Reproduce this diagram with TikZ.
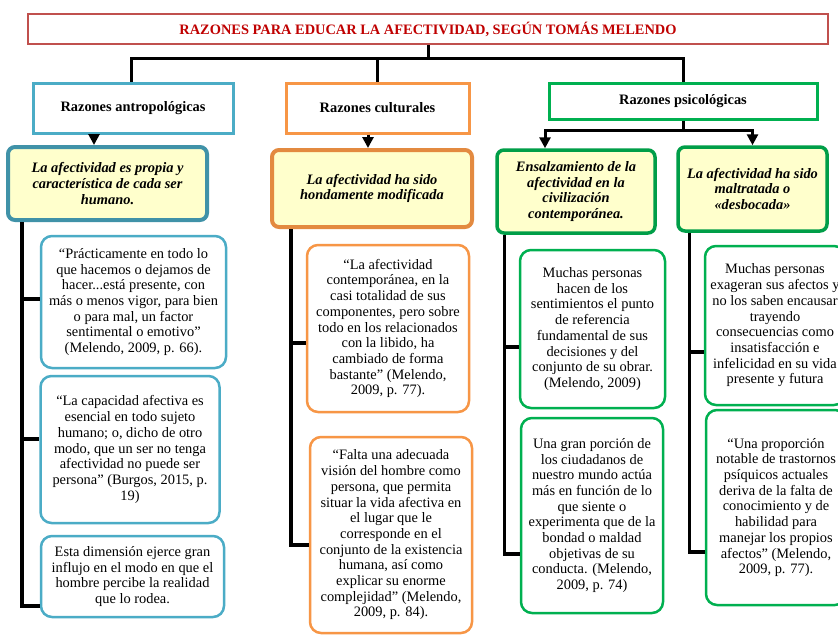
\documentclass[tikz,border=0pt]{standalone}
\usepackage{fontspec}
\setmainfont{Liberation Serif}
\usetikzlibrary{arrows.meta}
\definecolor{razred}{HTML}{C0504D}
\definecolor{titred}{HTML}{C00000}
\definecolor{antblue}{HTML}{4BACC6}
\definecolor{culorange}{HTML}{F79646}
\definecolor{psigreen}{HTML}{00B050}
\definecolor{ideafill}{HTML}{FFFFCC}

\begin{document}
\begin{tikzpicture}[x=1pt, y=-1pt,
    every node/.style = {font=\fontsize{14.4}{15.7}\selectfont, align=center, inner sep=0pt},
    title/.style = {draw=razred, line width=2pt, text=titred, font=\fontsize{14.4}{15.7}\selectfont\bfseries},
    cat/.style = {line width=3pt, fill=white, font=\fontsize{14.4}{15.7}\selectfont\bfseries},
    idea/.style = {line width=4pt, rounded corners=7pt, fill=ideafill, font=\fontsize{14.4}{15.7}\selectfont\bfseries\itshape},
    quote/.style = {line width=2.5pt, rounded corners=11pt, fill=white},
    conn/.style = {line width=3pt},
    trunk/.style = {line width=3.5pt},
    arrow/.style = {line width=3pt, -{Triangle[length=11pt,width=11pt]}}]

    \useasboundingbox (0,0) rectangle (838,635);
    \clip (0,0) rectangle (838,635);
    \fill[white] (0,0) rectangle (838,635);

    % title and reasons
    \node[title, minimum width=800pt, minimum height=30pt] (title) at (428,29) {RAZONES PARA EDUCAR LA AFECTIVIDAD, SEGÚN TOMÁS MELENDO};
    \node[cat, draw=antblue, minimum width=200pt, minimum height=50pt] (anthro) at (133,108) {Razones antropológicas};
    \node[cat, draw=culorange, minimum width=183pt, minimum height=50pt] (cult) at (377.5,108) {Razones culturales};
    \node[cat, draw=psigreen, minimum width=268pt, minimum height=36pt] (psic) at (683,101) {Razones psicológicas};

    % main ideas
    \node[idea, draw=antblue!85!black, minimum width=199pt, minimum height=73pt] (afA) at (107.5,183.5) {La afectividad es propia y\\ característica de cada ser\\ humano.};
    \node[idea, draw=culorange!92!black, minimum width=200pt, minimum height=77pt] (afB) at (372,188.5) {La afectividad ha sido\\ hondamente modificada};
    \node[idea, draw=psigreen!90!black, line width=3.5pt, minimum width=158pt, minimum height=83pt] (afC) at (576,191.5) {Ensalzamiento de la\\ afectividad en la\\ civilización\\ contemporánea.};
    \node[idea, draw=psigreen!90!black, line width=3.5pt, minimum width=149pt, minimum height=84pt] (afD) at (752.5,189) {La afectividad ha sido\\ maltratada o\\ «desbocada»};

    % quotes
    \node[quote, draw=antblue, minimum width=185pt, minimum height=132pt] (q1) at (133.5,302) {“Prácticamente en todo lo\\ que hacemos o dejamos de\\ hacer...está presente, con\\ más o menos vigor, para bien\\ o para mal, un factor\\ sentimental o emotivo”\\ (Melendo, 2009, p. 66).};
    \node[quote, draw=antblue, minimum width=179pt, minimum height=147pt] (q2) at (130,449.5) {“La capacidad afectiva es\\ esencial en todo sujeto\\ humano; o, dicho de otro\\ modo, que un ser no tenga\\ afectividad no puede ser\\ persona” (Burgos, 2015, p.\\ 19)};
    \node[quote, draw=antblue, minimum width=183pt, minimum height=81pt] (q3) at (132.5,576.5) {Esta dimensión ejerce gran\\ influjo en el modo en que el\\ hombre percibe la realidad\\ que lo rodea.};

    \node[quote, draw=culorange, minimum width=162pt, minimum height=167pt] (q4) at (388,328.5) {“La afectividad\\ contemporánea, en la\\ casi totalidad de sus\\ componentes, pero sobre\\ todo en los relacionados\\ con la libido, ha\\ cambiado de forma\\ bastante” (Melendo,\\ 2009, p. 77).};
    \node[quote, draw=culorange, minimum width=162pt, minimum height=196pt] (q5) at (391,535) {“Falta una adecuada\\ visión del hombre como\\ persona, que permita\\ situar la vida afectiva en\\ el lugar que le\\ corresponde en el\\ conjunto de la existencia\\ humana, así como\\ explicar su enorme\\ complejidad” (Melendo,\\ 2009, p. 84).};

    \node[quote, draw=psigreen, minimum width=145pt, minimum height=158pt] (q6) at (592.5,329) {Muchas personas\\ hacen de los\\ sentimientos el punto\\ de referencia\\ fundamental de sus\\ decisiones y del\\ conjunto de su obrar.\\ (Melendo, 2009)};
    \node[quote, draw=psigreen, minimum width=142pt, minimum height=195pt] (q7) at (592,515.5) {Una gran porción de\\ los ciudadanos de\\ nuestro mundo actúa\\ más en función de lo\\ que siente o\\ experimenta que de la\\ bondad o maldad\\ objetivas de su\\ conducta. (Melendo,\\ 2009, p. 74)};

    \node[quote, draw=psigreen, minimum width=140pt, minimum height=159pt] (q8) at (775,325.5) {Muchas personas\\ exageran sus afectos y\\ no los saben encausar\\ trayendo\\ consecuencias como\\ insatisfacción e\\ infelicidad en su vida\\ presente y futura};
    \node[quote, draw=psigreen, minimum width=140pt, minimum height=195pt] (q9) at (776,507.5) {“Una proporción\\ notable de trastornos\\ psíquicos actuales\\ deriva de la falta de\\ conocimiento y de\\ habilidad para\\ manejar los propios\\ afectos” (Melendo,\\ 2009, p. 77).};

    % title tree
    \draw[conn] (title.south) -- ++(0,13) coordinate (hub);
    \draw[conn] (hub) -| ([xshift=-2pt]anthro.north);
    \draw[conn] (hub) -| (cult.north);
    \draw[conn] (hub) -| (psic.north);

    % reasons to ideas
    \draw[arrow] ([xshift=-39pt]anthro.south) -- ([xshift=-13.5pt]afA.north);
    \draw[arrow] ([xshift=-9.5pt]cult.south) -- ([xshift=-4pt]afB.north);
    \draw[conn] (psic.south) -- ++(0,10) coordinate (pfork);
    \draw[arrow] (pfork) -| ([xshift=-31pt]afC.north);
    \draw[arrow] (pfork) -| (afD.north);

    % ideas to quotes
    \draw[trunk] ([xshift=16pt]afA.south west) |- ([yshift=3pt]q1.west);
    \draw[trunk] ([xshift=16pt]afA.south west) |- ([yshift=10.5pt]q2.west);
    \draw[trunk] ([xshift=16pt]afA.south west) |- ([yshift=-29.5pt]q3.west);

    \draw[trunk] ([xshift=21pt]afB.south west) |- ([yshift=-14.5pt]q4.west);
    \draw[trunk] ([xshift=21pt]afB.south west) |- ([yshift=-10pt]q5.west);

    \draw[trunk] ([xshift=9pt]afC.south west) |- ([yshift=-18pt]q6.west);
    \draw[trunk] ([xshift=9pt]afC.south west) |- ([yshift=-38.5pt]q7.west);

    \draw[trunk] ([xshift=13pt]afD.south west) |- ([yshift=-26.5pt]q8.west);
    \draw[trunk] ([xshift=13pt]afD.south west) |- ([yshift=-44.5pt]q9.west);

\end{tikzpicture}
\end{document}
